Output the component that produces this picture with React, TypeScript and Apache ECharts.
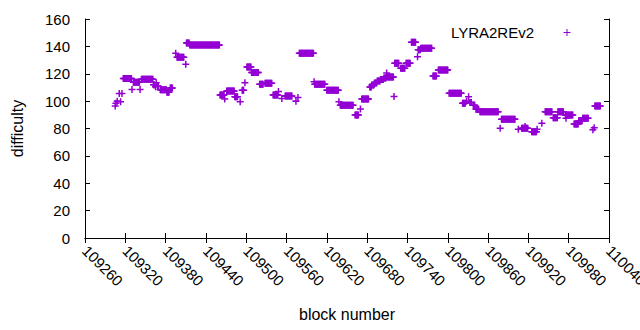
import React, { useEffect, useRef } from "react";
import * as echarts from "echarts";

const seriesName = "LYRA2REv2";
const xTitle = "block number";
const yTitle = "difficulty";
const xMin = 109260;
const xMax = 110040;
const xStep = 60;
const yMin = 0;
const yMax = 160;
const yStep = 20;

// runs of consecutive blocks sharing the same difficulty
const runStart = [
  109305, 109306, 109308, 109311, 109313, 109315, 109317, 109330, 109332, 109342,
  109344, 109362, 109365, 109366, 109368, 109372, 109382, 109387, 109395, 109397,
  109410, 109411, 109416, 109461, 109468, 109471, 109483, 109491, 109494, 109498,
  109501, 109508, 109520, 109528, 109540, 109548, 109553, 109558, 109574, 109577,
  109579, 109601, 109602, 109620, 109638, 109640, 109662, 109670, 109672, 109684,
  109687, 109691, 109695, 109700, 109705, 109709, 109710, 109720, 109721, 109730,
  109738, 109746, 109755, 109756, 109760, 109778, 109786, 109802, 109822, 109828,
  109831, 109833, 109838, 109842, 109848, 109878, 109880, 109905, 109910, 109915,
  109925, 109933, 109940, 109945, 109957, 109964, 109976, 109975, 109988, 109995,
  110001, 110016, 110018, 110019,
];
const runEnd = [
  109305, 109306, 109308, 109311, 109313, 109315, 109329, 109330, 109341, 109342,
  109361, 109363, 109365, 109366, 109369, 109381, 109385, 109390, 109395, 109407,
  109410, 109415, 109460, 109467, 109468, 109482, 109487, 109491, 109496, 109498,
  109507, 109518, 109525, 109538, 109547, 109548, 109553, 109568, 109574, 109577,
  109600, 109601, 109617, 109637, 109638, 109659, 109667, 109670, 109682, 109686,
  109690, 109694, 109699, 109704, 109708, 109709, 109719, 109720, 109727, 109736,
  109744, 109752, 109755, 109759, 109776, 109783, 109800, 109820, 109826, 109828,
  109831, 109835, 109840, 109846, 109875, 109878, 109900, 109905, 109919, 109915,
  109932, 109933, 109940, 109955, 109963, 109972, 109976, 109986, 109994, 110000,
  110009, 110016, 110018, 110027,
];
const runValue = [
  96.5, 98.5, 100, 105.5, 99.5, 105.5, 116.5, 108.5, 113.7, 108.5,
  116, 112, 110.5, 113.4, 111, 108.3, 106.4, 109.6, 135, 132,
  127, 142.5, 141, 104.5, 101.5, 107.4, 103.2, 99.6, 108, 113.5,
  125, 121, 112.3, 113, 104.5, 107, 102, 103.7, 100, 102.6,
  135, 114.2, 112.3, 108, 99.6, 97, 89.8, 94.2, 101.5, 110.3,
  111.8, 113.2, 114.7, 115.8, 116.9, 120.5, 117.6, 103.4, 127.6, 124,
  127.6, 143, 132.4, 137.5, 138.6, 118.3, 122.7, 105.7, 98.4, 100,
  103.2, 99, 97, 94, 92.3, 80.1, 86.7, 79.4, 80.1, 81.5,
  77.6, 79.4, 83.8, 92.3, 87.9, 92.3, 87.4, 89.8, 83.3, 85.7,
  87.4, 79, 80.5, 96.4,
];

const COLOR = "#9400D3";
const FONT = "Liberation Sans, Arial, sans-serif";
const PLUS = "path://M2.75,0H4.25V2.75H7V4.25H4.25V7H2.75V4.25H0V2.75H2.75Z";

export default function App() {
  const ref = useRef<HTMLDivElement>(null);
  useEffect(() => {
    const chart = echarts.init(ref.current!, null, { renderer: "svg" });
    const data: number[][] = [];
    runStart.forEach((s, i) => {
      for (let b = s; b <= runEnd[i]; b++) data.push([b, runValue[i]]);
    });
    const axisLine = { show: true, lineStyle: { color: "#000", width: 1 } };
    const tick = { show: true, inside: true, length: 5, lineStyle: { color: "#000" } };
    chart.setOption({
      animation: false,
      backgroundColor: "#fff",
      textStyle: { fontFamily: FONT },
      grid: {
        left: 85,
        right: 31,
        top: 19,
        bottom: 92,
        containLabel: false,
        outerBoundsMode: "none",
      },
      xAxis: [
        {
          type: "value",
          min: xMin,
          max: xMax,
          interval: xStep,
          position: "bottom",
          axisLine,
          axisTick: tick,
          splitLine: { show: false },
          axisLabel: {
            rotate: -45,
            margin: 10,
            color: "#000",
            fontSize: 15,
            fontFamily: FONT,
            hideOverlap: false,
            showMaxLabel: true,
            formatter: (v: number) => String(v),
          },
          name: xTitle,
          nameLocation: "middle",
          nameGap: 68,
          nameTextStyle: { color: "#000", fontSize: 16, fontFamily: FONT },
        },
        {
          type: "value",
          min: xMin,
          max: xMax,
          interval: xStep,
          position: "top",
          axisLine,
          axisTick: tick,
          splitLine: { show: false },
          axisLabel: { show: false },
        },
      ],
      yAxis: [
        {
          type: "value",
          min: yMin,
          max: yMax,
          interval: yStep,
          position: "left",
          axisLine,
          axisTick: tick,
          splitLine: { show: false },
          axisLabel: { margin: 15, color: "#000", fontSize: 15, fontFamily: FONT },
          name: yTitle,
          nameLocation: "middle",
          nameGap: 60,
          nameRotate: 90,
          nameTextStyle: { color: "#000", fontSize: 16, fontFamily: FONT },
        },
        {
          type: "value",
          min: yMin,
          max: yMax,
          interval: yStep,
          position: "right",
          axisLine,
          axisTick: tick,
          splitLine: { show: false },
          axisLabel: { show: false },
        },
      ],
      series: [
        {
          name: seriesName,
          type: "scatter",
          xAxisIndex: 0,
          yAxisIndex: 0,
          symbol: PLUS,
          symbolSize: 7,
          large: false,
          progressive: 0,
          itemStyle: { color: COLOR, opacity: 1 },
          data,
        },
      ],
      graphic: [
        {
          type: "text",
          x: 534,
          y: 32,
          style: {
            text: seriesName,
            fill: "#000",
            font: `15px ${FONT}`,
            align: "right",
            verticalAlign: "middle",
          },
        },
        {
          type: "line",
          shape: { x1: 563.5, y1: 32.5, x2: 570.5, y2: 32.5 },
          style: { stroke: COLOR, lineWidth: 1 },
        },
        {
          type: "line",
          shape: { x1: 567, y1: 29, x2: 567, y2: 36 },
          style: { stroke: COLOR, lineWidth: 1 },
        },
      ],
    });
    return () => chart.dispose();
  }, []);
  return (
    <div
      ref={ref}
      style={{ position: "fixed", left: 0, top: 0, width: 640, height: 330 }}
    />
  );
}
